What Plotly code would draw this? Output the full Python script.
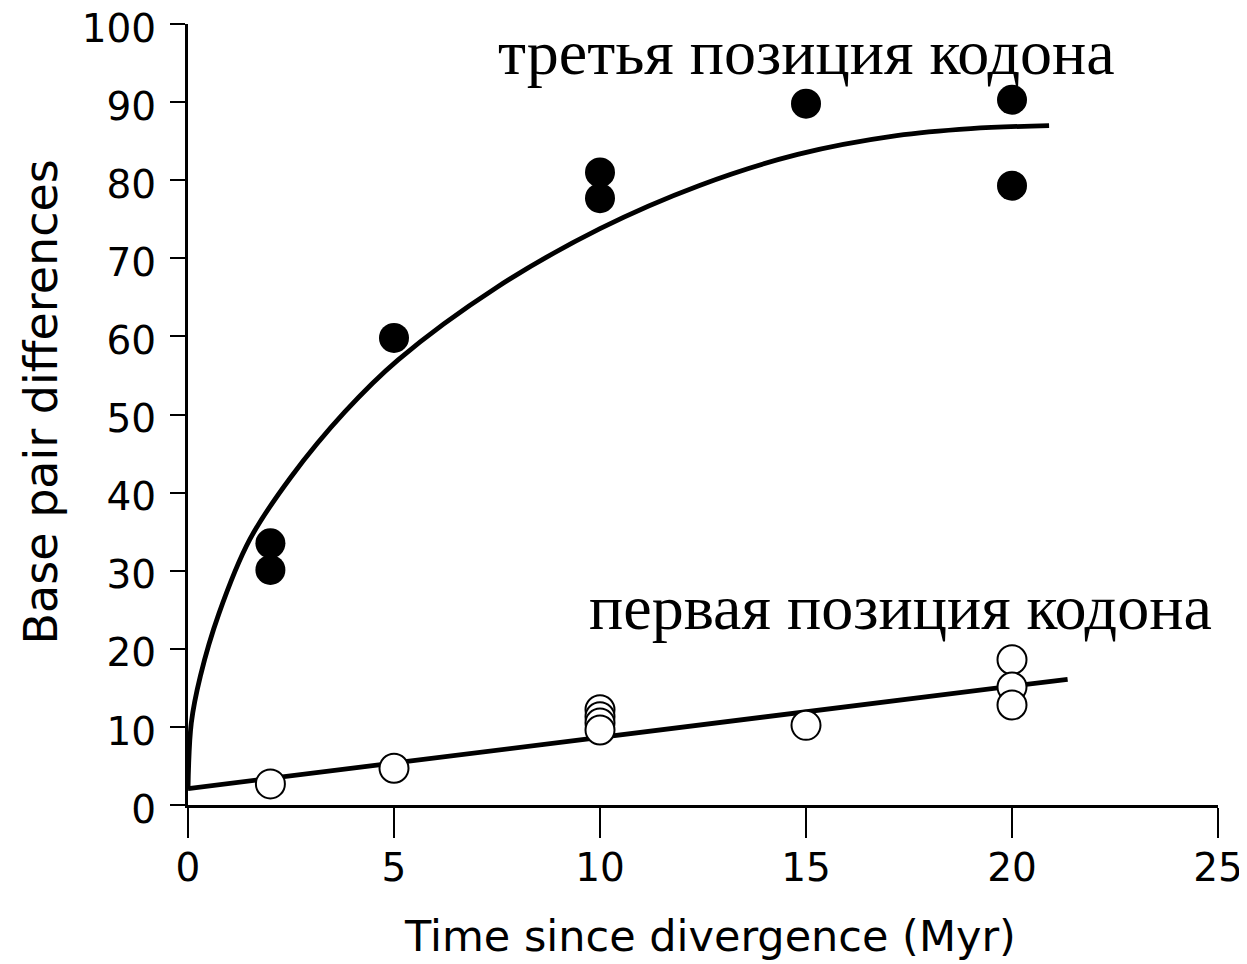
import plotly.graph_objects as go

# Data
third_x = [2, 2, 5, 10, 10, 15, 20, 20]
third_y = [33.5, 30.1, 59.8, 81.0, 77.7, 89.8, 90.3, 79.3]

first_x = [2, 5, 10, 10, 10, 10, 15, 20, 20, 20]
first_y = [2.7, 4.7, 12.2, 11.3, 10.5, 9.6, 10.2, 18.6, 15.1, 12.8]

curve_x = [0, 0.08, 0.3, 0.75, 1.5, 2.5, 3.8, 5.1, 7.5, 10.0, 12.4, 14.8, 17.2, 19.0, 20.9]
curve_y = [2.0, 10.5, 16.5, 24.5, 34.0, 42.0, 50.3, 57.0, 66.3, 73.8, 79.3, 83.3, 85.7, 86.6, 87.0]

line_x = [0, 21.35]
line_y = [2.1, 16.1]

x_ticks = [0, 5, 10, 15, 20, 25]
y_ticks = [0, 10, 20, 30, 40, 50, 60, 70, 80, 90, 100]

label_third = "третья позиция кодона"
label_first = "первая позиция кодона"
x_title = "Time since divergence (Myr)"
y_title = "Base pair differences"

SANS = "DejaVu Sans"

fig = go.Figure()
fig.add_trace(go.Scatter(x=curve_x, y=curve_y, mode="lines",
                         line=dict(color="black", width=4.8, shape="spline", smoothing=1.0),
                         showlegend=False, hoverinfo="skip", cliponaxis=False))
fig.add_trace(go.Scatter(x=line_x, y=line_y, mode="lines",
                         line=dict(color="black", width=4.8),
                         showlegend=False, hoverinfo="skip"))
fig.add_trace(go.Scatter(x=third_x, y=third_y, mode="markers",
                         marker=dict(size=30, color="black", line=dict(width=0)),
                         showlegend=False))
fig.add_trace(go.Scatter(x=first_x, y=first_y, mode="markers",
                         marker=dict(size=29, color="white", line=dict(width=2, color="black")),
                         showlegend=False))

fig.add_annotation(x=15.0, y=96.3, text=label_third, showarrow=False,
                   font=dict(family="Liberation Serif", size=64, color="black"))
fig.add_annotation(x=17.3, y=25.3, text=label_first, showarrow=False,
                   font=dict(family="Liberation Serif", size=64, color="black"))

# axis titles
fig.add_annotation(x=0.5, y=0, xref="paper", yref="paper", yshift=-131, xshift=7,
                   text=x_title, showarrow=False, xanchor="center", yanchor="middle",
                   font=dict(family=SANS, size=43, color="black"))
fig.add_annotation(x=0, y=0.5, xref="paper", yref="paper", xshift=-148, yshift=12,
                   text=y_title, textangle=-90, showarrow=False, xanchor="center", yanchor="middle",
                   font=dict(family=SANS, size=46, color="black"))

# page has an 8px body offset; size the figure so the plot lands where the reference has it
fig.update_layout(
    width=1239, height=956,
    margin=dict(l=180, r=29, t=16, b=159),
    paper_bgcolor="white", plot_bgcolor="white",
    font=dict(family=SANS, color="black"),
)
fig.update_xaxes(range=[0, 25], tickvals=x_ticks, showgrid=False, zeroline=False,
                 automargin=False, ticklabeloverflow="allow",
                 showline=True, linecolor="black", linewidth=3,
                 ticks="outside", ticklen=30, tickwidth=2, tickcolor="black",
                 tickfont=dict(size=39, family=SANS), ticklabelstandoff=-4)
fig.update_yaxes(range=[0, 100], tickvals=y_ticks, showgrid=False, zeroline=False,
                 automargin=False, ticklabeloverflow="allow",
                 showline=True, linecolor="black", linewidth=3,
                 ticks="outside", ticklen=15, tickwidth=2, tickcolor="black",
                 tickfont=dict(size=39, family=SANS), ticklabelstandoff=6, ticklabelshift=4)

fig.write_html("out.html")
